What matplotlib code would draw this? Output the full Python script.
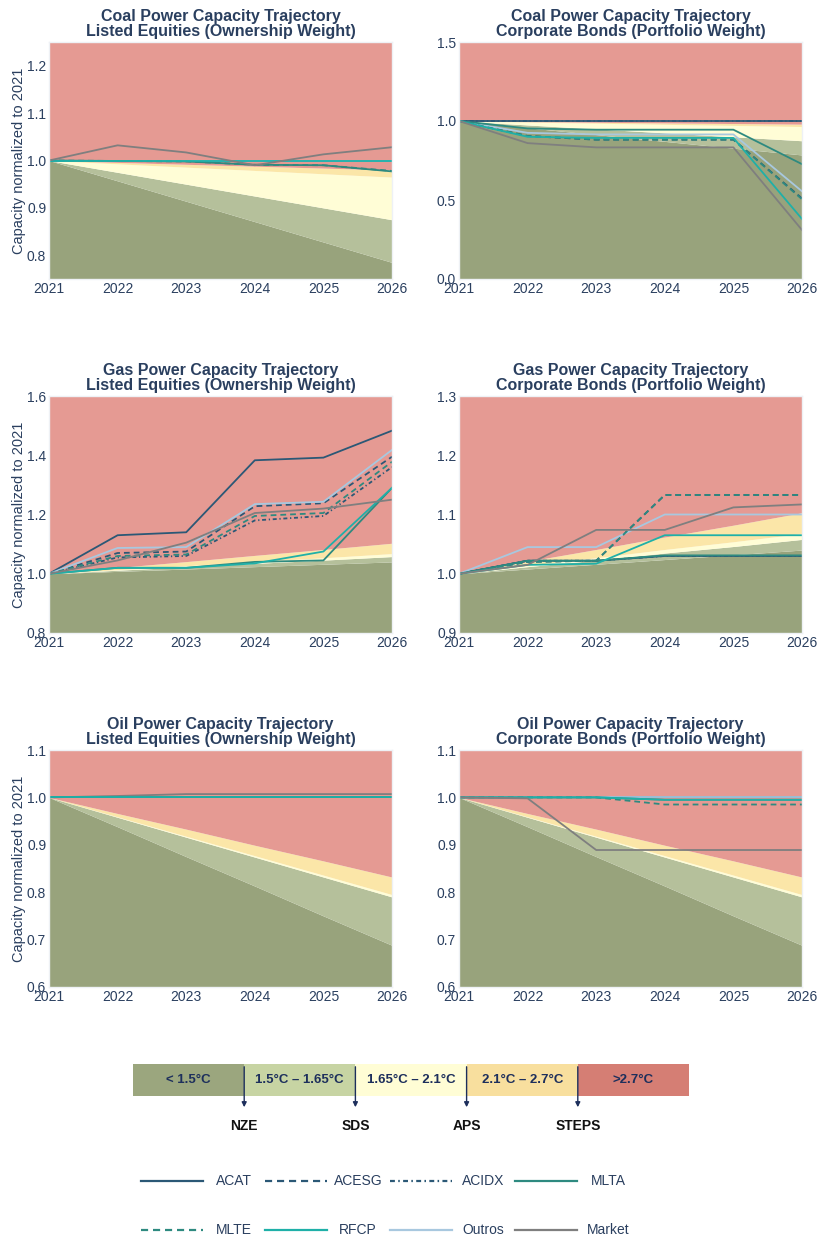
import numpy as np
import matplotlib
matplotlib.use('Agg')
import matplotlib.pyplot as plt
from matplotlib.patches import Rectangle

plt.rcParams['font.family'] = ['Liberation Sans', 'DejaVu Sans']

years = [2021, 2022, 2023, 2024, 2025, 2026]

# scenario pathways (normalized to 2021)
coal_nze = [1.0, 0.957, 0.914, 0.871, 0.828, 0.785]
coal_sds = [1.0, 0.975, 0.950, 0.925, 0.900, 0.875]
coal_aps = [1.0, 0.993, 0.986, 0.979, 0.972, 0.965]
coal_steps = [1.0, 0.996, 0.992, 0.988, 0.984, 0.980]

gas_nze = [1.0, 1.008, 1.016, 1.024, 1.032, 1.040]
gas_sds = [1.0, 1.012, 1.023, 1.035, 1.046, 1.058]
gas_aps = [1.0, 1.014, 1.027, 1.041, 1.054, 1.068]
gas_steps = [1.0, 1.021, 1.041, 1.062, 1.082, 1.103]

oil_nze = [1.0, 0.938, 0.875, 0.813, 0.750, 0.688]
oil_sds = [1.0, 0.958, 0.916, 0.874, 0.832, 0.790]
oil_aps = [1.0, 0.959, 0.918, 0.877, 0.836, 0.795]
oil_steps = [1.0, 0.966, 0.933, 0.899, 0.866, 0.832]

# portfolio trajectories
coal_le = {
    'ACAT':   [1.0, 1.0, 1.0, 1.0, 1.0, 1.0],
    'ACESG':  [1.0, 1.0, 1.0, 1.0, 1.0, 1.0],
    'ACIDX':  [1.0, 1.0, 1.0, 1.0, 1.0, 1.0],
    'Outros': [1.0, 1.0, 1.0, 1.0, 1.0, 1.0],
    'MLTA':   [1.0, 0.999, 0.998, 0.991, 0.990, 0.977],
    'MLTE':   [1.0, 0.999, 0.998, 0.991, 0.990, 0.978],
    'RFCP':   [1.0, 1.0, 1.0, 1.0, 1.0, 1.0],
    'Market': [1.0, 1.032, 1.017, 0.990, 1.013, 1.028],
}
coal_cb = {
    'ACAT':   [1.0, 1.0, 1.0, 1.0, 1.0, 1.0],
    'ACESG':  [1.0, 0.905, 0.882, 0.882, 0.882, 0.510],
    'ACIDX':  [1.0, 1.0, 1.0, 1.0, 1.0, 1.0],
    'Outros': [1.0, 0.925, 0.915, 0.915, 0.915, 0.555],
    'MLTA':   [1.0, 0.953, 0.945, 0.945, 0.945, 0.727],
    'MLTE':   [1.0, 0.905, 0.882, 0.882, 0.882, 0.505],
    'RFCP':   [1.0, 0.900, 0.893, 0.893, 0.893, 0.380],
    'Market': [1.0, 0.860, 0.833, 0.833, 0.833, 0.310],
}
gas_le = {
    'ACAT':   [1.0, 1.130, 1.140, 1.383, 1.392, 1.483],
    'ACESG':  [1.0, 1.070, 1.075, 1.228, 1.238, 1.395],
    'ACIDX':  [1.0, 1.055, 1.060, 1.180, 1.195, 1.360],
    'Outros': [1.0, 1.087, 1.090, 1.235, 1.243, 1.418],
    'MLTA':   [1.0, 1.020, 1.020, 1.040, 1.045, 1.290],
    'MLTE':   [1.0, 1.060, 1.065, 1.195, 1.205, 1.378],
    'RFCP':   [1.0, 1.020, 1.020, 1.035, 1.075, 1.290],
    'Market': [1.0, 1.045, 1.105, 1.205, 1.220, 1.250],
}
gas_cb = {
    'ACAT':   [1.0, 1.022, 1.022, 1.030, 1.030, 1.030],
    'ACESG':  [1.0, 1.020, 1.022, 1.133, 1.133, 1.133],
    'ACIDX':  [1.0, 1.022, 1.022, 1.030, 1.030, 1.030],
    'Outros': [1.0, 1.045, 1.045, 1.100, 1.100, 1.100],
    'MLTA':   [1.0, 1.022, 1.022, 1.031, 1.031, 1.031],
    'MLTE':   [1.0, 1.020, 1.022, 1.133, 1.133, 1.133],
    'RFCP':   [1.0, 1.015, 1.017, 1.065, 1.065, 1.065],
    'Market': [1.0, 1.015, 1.074, 1.074, 1.112, 1.117],
}
oil_le = {
    'ACAT':   [1.0, 1.0, 1.0, 1.0, 1.0, 1.0],
    'ACESG':  [1.0, 1.0, 1.0, 1.0, 1.0, 1.0],
    'ACIDX':  [1.0, 1.0, 1.0, 1.0, 1.0, 1.0],
    'Outros': [1.0, 1.0, 1.0, 1.0, 1.0, 1.0],
    'Market': [1.0, 1.003, 1.007, 1.007, 1.007, 1.007],
    'MLTA':   [1.0, 1.0, 1.0, 1.0, 1.0, 1.0],
    'MLTE':   [1.0, 1.0, 1.0, 1.0, 1.0, 1.0],
    'RFCP':   [1.0, 1.0, 1.0, 1.0, 1.0, 1.0],
}
oil_cb = {
    'ACAT':   [1.0, 1.0, 1.0, 1.0, 1.0, 1.0],
    'ACESG':  [1.0, 1.0, 1.0, 1.0, 1.0, 1.0],
    'ACIDX':  [1.0, 1.0, 1.0, 1.0, 1.0, 1.0],
    'Outros': [1.0, 1.0, 1.0, 1.0, 1.0, 1.0],
    'MLTA':   [1.0, 1.0, 1.0, 0.995, 0.995, 0.995],
    'MLTE':   [1.0, 1.0, 1.0, 0.985, 0.985, 0.985],
    'RFCP':   [1.0, 1.0, 1.0, 0.995, 0.995, 0.995],
    'Market': [1.0, 0.998, 0.889, 0.889, 0.889, 0.889],
}

portfolios = ['ACAT', 'ACESG', 'ACIDX', 'MLTA', 'MLTE', 'RFCP', 'Outros', 'Market']
colors = {'ACAT': '#2b5876', 'ACESG': '#2b5876', 'ACIDX': '#2b5876',
          'MLTA': '#2e8a80', 'MLTE': '#2e8a80', 'RFCP': '#1fb0a8',
          'Outros': '#a8c8df', 'Market': '#7f7f7f'}
dash = (0, (3.2, 2.2))
dashdot = (0, (2.2, 1.5, 0.7, 1.5))
styles = {'ACAT': '-', 'ACESG': dash, 'ACIDX': dashdot,
          'MLTA': '-', 'MLTE': dash, 'RFCP': '-', 'Outros': '-', 'Market': '-'}

band_colors = ['#98a37c', '#b5c09b', '#fffdd6', '#fbe6a8', '#e59a93']
scale_colors = ['#9ba67e', '#c7d4a3', '#fffdd5', '#f8df9e', '#d57e74']
scale_labels = ['< 1.5°C', '1.5°C – 1.65°C', '1.65°C – 2.1°C', '2.1°C – 2.7°C', '>2.7°C']
scen_names = ['NZE', 'SDS', 'APS', 'STEPS']

navy = '#2a3f5f'

W, H = 817, 1241
fig = plt.figure(figsize=(W / 100, H / 100), dpi=100)

panels = [
    ('Coal Power Capacity Trajectory\nListed Equities (Ownership Weight)', coal_le,
     (coal_nze, coal_sds, coal_aps, coal_steps), (0.75, 1.25), [0.8, 0.9, 1.0, 1.1, 1.2], 0, 0),
    ('Coal Power Capacity Trajectory\nCorporate Bonds (Portfolio Weight)', coal_cb,
     (coal_nze, coal_sds, coal_aps, coal_steps), (0.0, 1.5), [0.0, 0.5, 1.0, 1.5], 0, 1),
    ('Gas Power Capacity Trajectory\nListed Equities (Ownership Weight)', gas_le,
     (gas_nze, gas_sds, gas_aps, gas_steps), (0.8, 1.6), [0.8, 1.0, 1.2, 1.4, 1.6], 1, 0),
    ('Gas Power Capacity Trajectory\nCorporate Bonds (Portfolio Weight)', gas_cb,
     (gas_nze, gas_sds, gas_aps, gas_steps), (0.9, 1.3), [0.9, 1.0, 1.1, 1.2, 1.3], 1, 1),
    ('Oil Power Capacity Trajectory\nListed Equities (Ownership Weight)', oil_le,
     (oil_nze, oil_sds, oil_aps, oil_steps), (0.6, 1.1), [0.6, 0.7, 0.8, 0.9, 1.0, 1.1], 2, 0),
    ('Oil Power Capacity Trajectory\nCorporate Bonds (Portfolio Weight)', oil_cb,
     (oil_nze, oil_sds, oil_aps, oil_steps), (0.6, 1.1), [0.6, 0.7, 0.8, 0.9, 1.0, 1.1], 2, 1),
]

row_top = [42, 396, 750]
col_left = [49, 459]
aw, ah = 343, 237

for title, data, scen, ylim, yticks, r, c in panels:
    ax = fig.add_axes([col_left[c] / W, 1 - (row_top[r] + ah) / H, aw / W, ah / H])
    lo, hi = ylim
    bounds = [np.full(len(years), lo)] + [np.array(s) for s in scen] + [np.full(len(years), hi)]
    for i in range(5):
        ax.fill_between(years, bounds[i], bounds[i + 1], color=band_colors[i], lw=0)
    # draw in the panel's own order so the right line ends up on top
    for p in data:
        ax.plot(years, data[p], color=colors[p], ls=styles[p], lw=1.3)
    ax.set_xlim(2021, 2026)
    ax.set_ylim(lo, hi)
    ax.set_xticks(years)
    ax.set_yticks(yticks)
    ax.set_yticklabels(['%.1f' % v for v in yticks])
    ax.tick_params(length=0, labelsize=10, colors=navy, pad=2)
    for s in ax.spines.values():
        s.set_color('#eef1f5')
        s.set_linewidth(1)
    ax.set_title(title, fontsize=11.5, fontweight='bold', color=navy, pad=4, linespacing=1.05)
    if c == 0:
        ax.set_ylabel('Capacity normalized to 2021', fontsize=10.5, color=navy, labelpad=1)

# temperature scale and legend
lg = fig.add_axes([0, 0, 1, 1])
lg.set_xlim(0, W)
lg.set_ylim(H, 0)
lg.axis('off')

x0, x1, y0, y1 = 133, 689, 1064, 1096
seg = (x1 - x0) / 5
for i in range(5):
    lg.add_patch(Rectangle((x0 + i * seg, y0), seg, y1 - y0, color=scale_colors[i], lw=0))
    lg.text(x0 + (i + 0.5) * seg, (y0 + y1) / 2, scale_labels[i], ha='center', va='center',
            fontsize=9.5, fontweight='bold', color='#1d2f5c')
for i, name in enumerate(scen_names):
    bx = x0 + (i + 1) * seg
    lg.annotate('', xy=(bx, 1110), xytext=(bx, y0),
                arrowprops=dict(arrowstyle='-|>', color='#1d2f5c', lw=1, mutation_scale=7))
    lg.text(bx, 1126, name, ha='center', va='center', fontsize=10, fontweight='bold', color='#111111')

leg_x = [141, 265, 390, 515]
leg_y = [1181, 1230]
for k, p in enumerate(portfolios):
    r, c = divmod(k, 4)
    lx = leg_x[c]
    lg.plot([lx, lx + 62], [leg_y[r], leg_y[r]], color=colors[p], ls=styles[p], lw=1.6)
    lg.text(lx + 93, leg_y[r], p, ha='center', va='center', fontsize=10, color=navy)

fig.savefig('out.png', dpi=100)
